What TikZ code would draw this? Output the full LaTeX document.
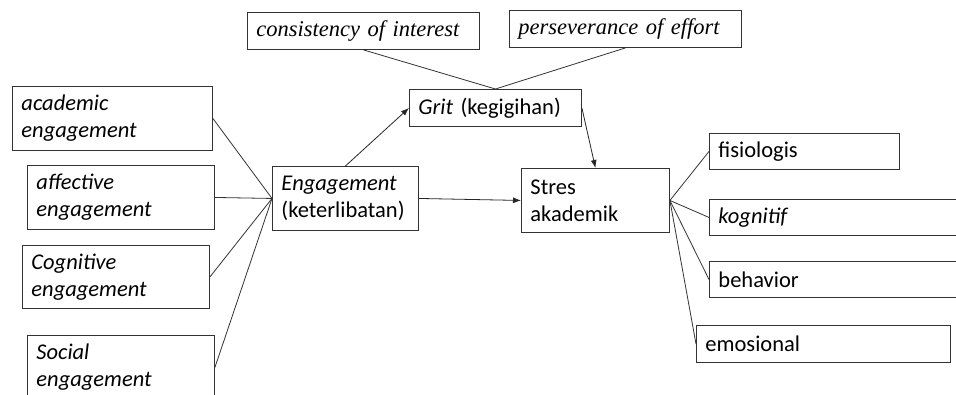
\documentclass[tikz,border=0pt]{standalone}
\usepackage{fontspec}
\setmainfont{Carlito}
\newfontfamily\serifit{Liberation Serif}
\usetikzlibrary{arrows.meta}
\tikzstyle{boxed} = [rectangle, draw=black!80, line width=0.9pt, anchor=north west, inner xsep=9pt, inner ysep=0pt, align=left, font=\fontsize{22.5}{27}\selectfont]
\tikzstyle{connect} = [line width=0.8pt, draw=black!85, -{Latex[length=8pt,width=6pt]}]
\tikzstyle{link} = [line width=0.8pt, draw=black!80]

\begin{document}
\begin{tikzpicture}[x=1pt,y=-1pt]
			\useasboundingbox (0,0) rectangle (956,394);

			\node (consist) [boxed, text width=214pt, minimum height=37pt] at (247,12) {\serifit\itshape consistency of interest};
			\node (persev) [boxed, text width=214pt, minimum height=37pt] at (509,10) {\serifit\itshape perseverance of effort};
			\node (grit) [boxed, text width=154pt, minimum height=37pt] at (409,89) {\textit{Grit} (kegigihan)};

			\node (academic) [boxed, text width=182pt, minimum height=64pt] at (12,86) {\textit{academic}\\\textit{engagement}};
			\node (affective) [boxed, text width=169pt, minimum height=64pt] at (27,165) {\textit{affective}\\\textit{engagement}};
			\node (cognitive) [boxed, text width=169pt, minimum height=63pt] at (22,245) {\textit{Cognitive}\\\textit{engagement}};
			\node (social) [boxed, text width=169pt, minimum height=64pt] at (27,335) {\textit{Social}\\\textit{engagement}};

			\node (engage) [boxed, text width=128pt, minimum height=64pt] at (272,166) {\textit{Engagement}\\(keterlibatan)};
			\node (stres) [boxed, text width=130pt, minimum height=64pt] at (521,168) {Stres\\akademik};

			\node (fisio) [boxed, text width=172pt, minimum height=36pt] at (709,133) {fisiologis};
			\node (kogni) [boxed, text width=242pt, minimum height=36pt] at (709,199) {\textit{kognitif}};
			\node (behav) [boxed, text width=242pt, minimum height=36pt] at (709,261) {behavior};
			\node (emosi) [boxed, text width=236pt, minimum height=37pt] at (696,325) {emosional};

			\draw[link] (consist.south) -- (grit.north);
			\draw[link] (persev.south) -- (grit.north);
			\draw[connect] (engage.north) -- (grit.west);
			\draw[connect] (grit.east) -- (stres.north);
			\draw[connect] (engage.east) -- (stres.west);

			\draw[link] (academic.east) -- (engage.west);
			\draw[link] (affective.east) -- (engage.west);
			\draw[link] (cognitive.east) -- (engage.west);
			\draw[link] (social.east) -- (engage.west);

			\draw[link] (stres.east) -- (fisio.west);
			\draw[link] (stres.east) -- (kogni.west);
			\draw[link] (stres.east) -- (behav.west);
			\draw[link] (stres.east) -- (emosi.west);

\end{tikzpicture}
\end{document}
